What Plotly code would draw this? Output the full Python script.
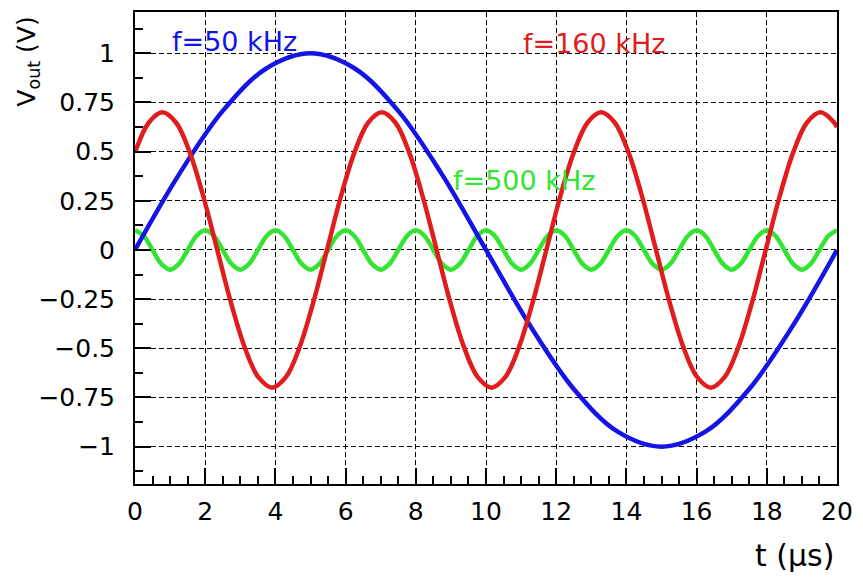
import plotly.graph_objects as go

# Output voltage of the filter for three input frequencies, sampled in time (µs)
t_50 = [0, 1.25, 2.5, 3.75, 5, 6.25, 7.5, 8.75, 10, 11.25, 12.5, 13.75, 15,
        16.25, 17.5, 18.75, 20]
v_50 = [0, 0.383, 0.707, 0.924, 1.0, 0.924, 0.707, 0.383, 0, -0.383, -0.707,
        -0.924, -1.0, -0.924, -0.707, -0.383, 0]

t_160 = [0, 0.391, 0.781, 1.172, 1.563, 1.953, 2.344, 2.734, 3.125, 3.516,
         3.906, 4.297, 4.688, 5.078, 5.469, 5.859, 6.25, 6.641, 7.031, 7.422,
         7.813, 8.203, 8.594, 8.984, 9.375, 9.766, 10.156, 10.547, 10.938,
         11.328, 11.719, 12.109, 12.5, 12.891, 13.281, 13.672, 14.063, 14.453,
         14.844, 15.234, 15.625, 16.016, 16.406, 16.797, 17.188, 17.578,
         17.969, 18.359, 18.75, 19.141, 19.531, 19.922, 20]
v_160 = [0.495, 0.647, 0.7, 0.647, 0.495, 0.268, 0, -0.268,
         -0.495, -0.647, -0.7, -0.647, -0.495, -0.268, 0, 0.268,
         0.495, 0.647, 0.7, 0.647, 0.495, 0.268, 0, -0.268,
         -0.495, -0.647, -0.7, -0.647, -0.495, -0.268, 0, 0.268,
         0.495, 0.647, 0.7, 0.647, 0.495, 0.268, 0, -0.268,
         -0.495, -0.647, -0.7, -0.647, -0.495, -0.268, 0, 0.268,
         0.495, 0.647, 0.7, 0.647, 0.624]

t_500 = [0, 0.25, 0.5, 0.75, 1, 1.25, 1.5, 1.75, 2, 2.25, 2.5, 2.75, 3, 3.25,
         3.5, 3.75, 4, 4.25, 4.5, 4.75, 5, 5.25, 5.5, 5.75, 6, 6.25, 6.5, 6.75,
         7, 7.25, 7.5, 7.75, 8, 8.25, 8.5, 8.75, 9, 9.25, 9.5, 9.75, 10, 10.25,
         10.5, 10.75, 11, 11.25, 11.5, 11.75, 12, 12.25, 12.5, 12.75, 13, 13.25,
         13.5, 13.75, 14, 14.25, 14.5, 14.75, 15, 15.25, 15.5, 15.75, 16, 16.25,
         16.5, 16.75, 17, 17.25, 17.5, 17.75, 18, 18.25, 18.5, 18.75, 19, 19.25,
         19.5, 19.75, 20]
v_500 = [0.1, 0.071, 0, -0.071, -0.1, -0.071, 0, 0.071,
         0.1, 0.071, 0, -0.071, -0.1, -0.071, 0, 0.071,
         0.1, 0.071, 0, -0.071, -0.1, -0.071, 0, 0.071,
         0.1, 0.071, 0, -0.071, -0.1, -0.071, 0, 0.071,
         0.1, 0.071, 0, -0.071, -0.1, -0.071, 0, 0.071,
         0.1, 0.071, 0, -0.071, -0.1, -0.071, 0, 0.071,
         0.1, 0.071, 0, -0.071, -0.1, -0.071, 0, 0.071,
         0.1, 0.071, 0, -0.071, -0.1, -0.071, 0, 0.071,
         0.1, 0.071, 0, -0.071, -0.1, -0.071, 0, 0.071,
         0.1, 0.071, 0, -0.071, -0.1, -0.071, 0, 0.071,
         0.1]

x_ticks = [0, 2, 4, 6, 8, 10, 12, 14, 16, 18, 20]
x_labels = ["0", "2", "4", "6", "8", "10", "12", "14", "16", "18", "20"]
y_ticks = [-1, -0.75, -0.5, -0.25, 0, 0.25, 0.5, 0.75, 1]
y_labels = ["\u22121", "\u22120.75", "\u22120.5", "\u22120.25", "0",
            "0.25", "0.5", "0.75", "1"]

BLUE = "#1414e6"
RED = "#e01c1c"
GREEN = "#33e433"
FONT = "DejaVu Sans"

fig = go.Figure()
for t, v, c in [(t_500, v_500, GREEN), (t_50, v_50, BLUE), (t_160, v_160, RED)]:
    fig.add_trace(go.Scatter(
        x=t, y=v, mode="lines",
        line=dict(color=c, width=4.5, shape="spline"),
        showlegend=False, hoverinfo="skip",
    ))

axis_common = dict(
    ticks="inside", ticklen=16, tickwidth=1.5, tickcolor="black",
    showline=True, linecolor="black", linewidth=2, mirror=True,
    showgrid=True, gridcolor="black", gridwidth=1, griddash="5px,3px",
    zeroline=False,
    tickfont=dict(family=FONT, size=25, color="black"),
)

fig.update_xaxes(
    range=[0, 20], tickmode="array", tickvals=x_ticks, ticktext=x_labels,
    minor=dict(tickmode="linear", tick0=0, dtick=0.5, ticks="inside",
               ticklen=8, tickwidth=1.5, tickcolor="black", showgrid=False),
    ticklabelstandoff=4,
    **axis_common,
)
fig.update_yaxes(
    range=[-1.19, 1.21], tickmode="array", tickvals=y_ticks, ticktext=y_labels,
    minor=dict(tickmode="linear", tick0=0, dtick=0.125, ticks="inside",
               ticklen=8, tickwidth=1.5, tickcolor="black", showgrid=False),
    ticklabelstandoff=13,
    **axis_common,
)

labels = [
    ("f=50 kHz", 1.0, 1.06, BLUE),
    ("f=160 kHz", 11.0, 1.05, RED),
    ("f=500 kHz", 9.0, 0.355, GREEN),
]
annotations = [
    dict(text=txt, x=x, y=y, xref="x", yref="y", xanchor="left",
         yanchor="middle", showarrow=False,
         font=dict(family=FONT, size=27, color=c))
    for txt, x, y, c in labels
]
annotations.append(dict(
    text="V<sub>out</sub> (V)", textangle=-90, x=-0.152, y=0.995,
    xref="paper", yref="paper", xanchor="center", yanchor="top",
    showarrow=False, font=dict(family=FONT, size=25, color="black"),
))
annotations.append(dict(
    text="t (\u03bcs)", x=0.998, y=-0.152, xref="paper", yref="paper",
    xanchor="right", yanchor="middle", showarrow=False,
    font=dict(family=FONT, size=30, color="black"),
))

fig.update_layout(
    width=863, height=577,
    margin=dict(l=135, r=16, t=10, b=93, pad=0),
    paper_bgcolor="white", plot_bgcolor="white",
    annotations=annotations,
)

fig.write_html("out.html")
